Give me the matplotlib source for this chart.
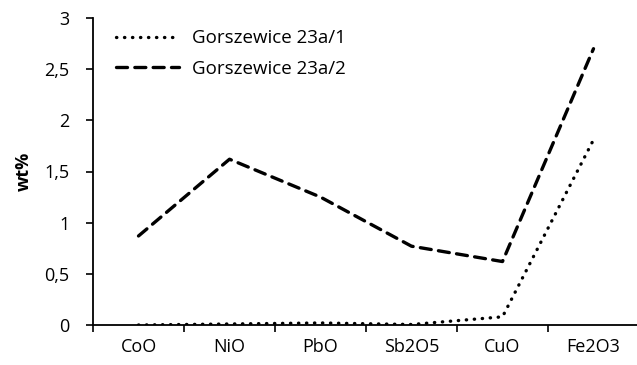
import matplotlib
matplotlib.use("Agg")
import matplotlib.pyplot as plt
import numpy as np
from matplotlib.ticker import FixedLocator, FuncFormatter

categories = ["CoO", "NiO", "PbO", "Sb2O5", "CuO", "Fe2O3"]
series_1 = [0.0, 0.01, 0.02, 0.005, 0.08, 1.81]   # Gorszewice 23a/1
series_2 = [0.87, 1.62, 1.25, 0.77, 0.62, 2.70]   # Gorszewice 23a/2
names = ["Gorszewice 23a/1", "Gorszewice 23a/2"]

plt.rcParams['font.family'] = ['Open Sans', 'DejaVu Sans']

fig = plt.figure(figsize=(6.37, 3.65), dpi=100)
ax = fig.add_axes([93/637, 1 - 325/365, 546/637, (325 - 18)/365])

x = np.arange(len(categories))
ax.plot(x, series_1, color="black", lw=2.4, linestyle=(0, (0.1, 2.3)),
        dash_capstyle="round", label=names[0])
ax.plot(x, series_2, color="black", lw=2.4, linestyle=(0, (3.3, 2.2)),
        dash_capstyle="round", label=names[1])

ax.set_xlim(-0.5, len(categories) - 0.5)
ax.set_ylim(0, 3)
ax.set_yticks(np.arange(0, 3.01, 0.5))
ax.yaxis.set_major_formatter(FuncFormatter(lambda v, p: f"{v:g}".replace(".", ",")))
ax.set_xticks(x)
ax.set_xticklabels(categories)
ax.xaxis.set_minor_locator(FixedLocator(np.arange(-0.5, len(categories), 1.0)))
ax.tick_params(axis="x", which="major", length=0, pad=9, labelsize=13)
ax.tick_params(axis="x", which="minor", length=5, width=1.2, direction="out")
ax.tick_params(axis="y", length=5, width=1.2, direction="out", pad=12, labelsize=13)

for s in ["top", "right"]:
    ax.spines[s].set_visible(False)
for s in ["left", "bottom"]:
    ax.spines[s].set_linewidth(1.3)

ax.set_ylabel("wt%", fontsize=13, fontweight="bold", labelpad=8)

ax.legend(loc="upper left", bbox_to_anchor=(0.011, 1.018), frameon=False,
          fontsize=13.5, handlelength=3.36, handletextpad=0.7, labelspacing=0.65)

fig.savefig("out.png", dpi=100)
